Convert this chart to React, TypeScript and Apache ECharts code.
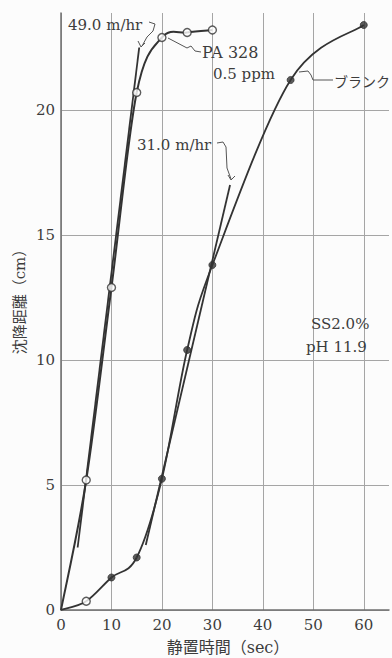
import React, { useEffect, useRef } from "react";
import * as echarts from "echarts";

// ---- data ----
const xTickValues = [0, 10, 20, 30, 40, 50, 60];
const yTickValues = [0, 5, 10, 15, 20];
const paTime = [0, 5, 10, 15, 20, 25, 30];
const paDepth = [0, 5.2, 12.9, 20.7, 22.9, 23.1, 23.2];
const blankTime = [0, 5, 10, 15, 20, 25, 30, 45.5, 60];
const blankDepth = [0, 0.35, 1.3, 2.1, 5.25, 10.4, 13.8, 21.2, 23.4];
const blankOpenIndex = [1];
const tangent49Time = [3.3, 15.5];
const tangent49Depth = [2.5, 22.5];
const tangent31Time = [16.8, 33.5];
const tangent31Depth = [2.6, 17.0];

const labelPA = "PA 328";
const labelPPM = "0.5 ppm";
const labelBlank = "ブランク";
const label49 = "49.0 m/hr";
const label31 = "31.0 m/hr";
const labelSS = "SS2.0%";
const labelPH = "pH 11.9";
const xName = "静置時間（sec）";
const yName = "沈降距離（cm）";

const SERIF = "'DejaVu Serif', 'Noto Sans CJK JP', serif";
const INK = "#333";
const TXT = "#3c3c3c";

// smooth curve (Catmull-Rom as Bezier segments) through the data points, via the axis scales
function curveSeries(name: string, times: number[], depths: number[], width: number) {
  const n = times.length;
  return {
    name,
    type: "custom",
    silent: true,
    z: 4,
    data: times.map((t, i) => [t, depths[i]]),
    renderItem: (params: any, api: any) => {
      const i = params.dataIndex;
      if (i >= n - 1) return null;
      const P = (k: number) => {
        const kk = Math.max(0, Math.min(n - 1, k));
        return api.coord([times[kk], depths[kk]]);
      };
      const p0 = P(i - 1), p1 = P(i), p2 = P(i + 1), p3 = P(i + 2);
      return {
        type: "bezierCurve",
        shape: {
          x1: p1[0], y1: p1[1],
          x2: p2[0], y2: p2[1],
          cpx1: p1[0] + (p2[0] - p0[0]) / 6,
          cpy1: p1[1] + (p2[1] - p0[1]) / 6,
          cpx2: p2[0] - (p3[0] - p1[0]) / 6,
          cpy2: p2[1] - (p3[1] - p1[1]) / 6,
        },
        style: { stroke: INK, lineWidth: width, fill: null },
      };
    },
  };
}

export default function App() {
  const ref = useRef<HTMLDivElement>(null);

  useEffect(() => {
    if (!ref.current) return;
    const chart = echarts.init(ref.current, undefined, { renderer: "svg" });

    const openStyle = { color: "#fff", borderColor: INK, borderWidth: 1.4 };
    const filledStyle = { color: INK, borderColor: INK, borderWidth: 1 };

    const paMarks = paTime.map((t, i) => ({
      value: [t, paDepth[i]],
      symbol: i === 0 ? "none" : "circle",
      symbolSize: 8,
      itemStyle: openStyle,
    }));
    const blankMarks = blankTime.map((t, i) => {
      const open = blankOpenIndex.includes(i);
      return {
        value: [t, blankDepth[i]],
        symbol: i === 0 ? "none" : "circle",
        symbolSize: open ? 8 : 7,
        itemStyle: open ? openStyle : filledStyle,
      };
    });
    const t49 = tangent49Time.map((t, i) => [t, tangent49Depth[i]]);
    const t31 = tangent31Time.map((t, i) => [t, tangent31Depth[i]]);

    const lineStyleLeader = { stroke: "#555", lineWidth: 1, fill: null };
    const txt = (text: string, x: number, y: number, size = 15, extra: any = {}) => ({
      type: "text",
      x,
      y,
      style: {
        text,
        fill: TXT,
        font: `${size}px ${SERIF}`,
        verticalAlign: "middle",
        ...extra,
      },
      z: 10,
    });
    const pl = (points: number[][]) => ({
      type: "polyline",
      shape: { points },
      style: lineStyleLeader,
      z: 10,
    });

    chart.setOption({
      animation: false,
      backgroundColor: "#fcfcfc",
      textStyle: { fontFamily: SERIF, color: TXT },
      grid: { left: 61, right: 0, top: 13, bottom: 48, containLabel: false },
      xAxis: {
        type: "value",
        min: 0,
        max: 65,
        interval: 10,
        axisLine: { show: true, lineStyle: { color: "#6f6f6f", width: 1.5 } },
        axisTick: { show: false },
        axisLabel: {
          margin: 7,
          fontSize: 15,
          color: TXT,
          fontFamily: SERIF,
          formatter: (v: number) => (xTickValues.includes(v) ? String(v) : ""),
        },
        splitLine: {
          show: true,
          showMaxLine: false,
          lineStyle: { color: "#a5a5a5", width: 1 },
        },
      },
      yAxis: {
        type: "value",
        min: 0,
        max: 23.88,
        interval: 5,
        axisLine: { show: true, lineStyle: { color: "#6f6f6f", width: 1.5 } },
        axisTick: { show: false },
        axisLabel: {
          margin: 6,
          fontSize: 15,
          color: TXT,
          fontFamily: SERIF,
          formatter: (v: number) => (yTickValues.includes(v) ? String(v) : ""),
        },
        splitLine: {
          show: true,
          showMaxLine: false,
          lineStyle: { color: "#a5a5a5", width: 1 },
        },
      },
      series: [
        curveSeries("PA 328 0.5 ppm curve", paTime, paDepth, 2),
        curveSeries("ブランク curve", blankTime, blankDepth, 1.8),
        {
          name: "PA 328 0.5 ppm",
          type: "scatter",
          data: paMarks,
          z: 6,
        },
        {
          name: "ブランク",
          type: "scatter",
          data: blankMarks,
          z: 6,
        },
        {
          name: "49.0 m/hr",
          type: "line",
          data: t49,
          symbol: "none",
          lineStyle: { color: INK, width: 1.8 },
          z: 3,
        },
        {
          name: "31.0 m/hr",
          type: "line",
          data: t31,
          symbol: "none",
          lineStyle: { color: INK, width: 1.8 },
          z: 3,
        },
      ],
      graphic: [
        txt(label49, 68, 25, 15),
        pl([[149, 22], [155, 24], [153, 31], [147, 37], [142, 46]]),
        pl([[138, 41], [141, 47], [145, 43]]),
        txt(labelPA, 202, 52, 16),
        pl([[168, 38], [187, 48], [191, 46], [195, 51], [201, 52]]),
        txt(labelPPM, 213, 74, 15),
        txt(labelBlank, 334, 81, 15, { font: `14px 'Noto Sans CJK JP', sans-serif` }),
        pl([[299, 72], [308, 71], [311, 75], [313, 80], [333, 80]]),
        txt(label31, 137, 145, 15),
        pl([[217, 143], [223, 142], [226, 147], [227, 168], [231, 179]]),
        pl([[228, 175], [231, 180], [235, 176]]),
        txt(labelSS, 311, 324, 15),
        txt(labelPH, 306, 347, 15),
        txt(xName, 228, 647, 16, { align: "center" }),
        {
          type: "text",
          x: 20,
          y: 298,
          rotation: Math.PI / 2,
          style: {
            text: yName,
            fill: TXT,
            font: `15px ${SERIF}`,
            align: "center",
            verticalAlign: "middle",
          },
        },
      ],
    });

    return () => chart.dispose();
  }, []);

  return (
    <div
      ref={ref}
      style={{ position: "fixed", left: 0, top: 0, width: 392, height: 658 }}
    />
  );
}
